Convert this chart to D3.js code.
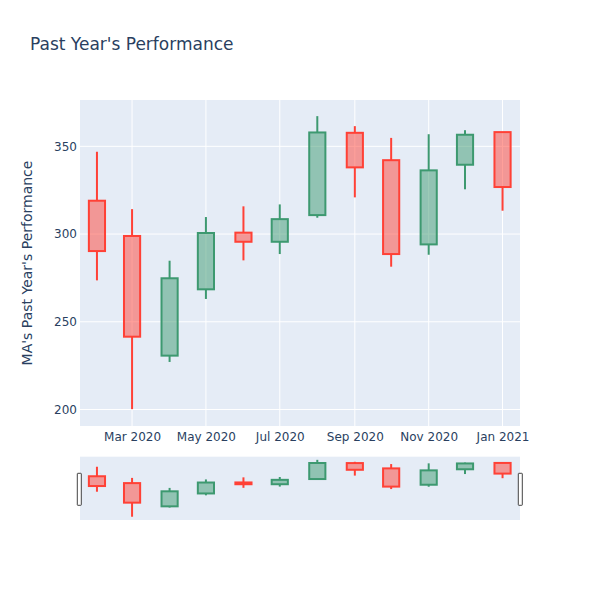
<!DOCTYPE html>
<html>
<head>
<meta charset="utf-8">
<script src="https://cdn.jsdelivr.net/npm/d3@7"></script>
<style>
body{margin:0;background:#fff;}
</style>
</head>
<body>
<div id="chart"></div>
<script>
const dates = ["2020-02-01","2020-03-01","2020-04-01","2020-05-01","2020-06-01","2020-07-01",
               "2020-08-01","2020-09-01","2020-10-01","2020-11-01","2020-12-01","2021-01-01"];
const opens  = [319.0, 298.9, 230.7, 268.5, 300.8, 295.6, 310.8, 357.7, 342.1, 294.1, 339.5, 358.1];
const highs  = [346.9, 314.2, 284.8, 309.7, 315.8, 316.9, 367.2, 361.5, 354.8, 356.9, 359.2, 358.1];
const lows   = [273.6, 200.2, 227.1, 263.0, 285.0, 288.6, 309.3, 320.9, 281.4, 288.2, 325.5, 313.3];
const closes = [290.3, 241.5, 274.8, 300.6, 295.6, 308.5, 357.9, 338.0, 288.6, 336.3, 356.6, 326.8];
const yTicks = [200, 250, 300, 350];
const xTickDates = ["2020-03-01","2020-05-01","2020-07-01","2020-09-01","2020-11-01","2021-01-01"];
const titleText = "Past Year's Performance";
const yTitle = "MA's Past Year's Performance";

const FONT = "'DejaVu Sans', verdana, sans-serif";
const W = 600, H = 600;
const M = {l:80, r:80, t:100};
const plotH = 326, sliderTop = 456.7, sliderH = 63.3;
const parse = d3.utcParse("%Y-%m-%d");
const data = dates.map((d,i)=>({date:parse(d), o:opens[i], h:highs[i], l:lows[i], c:closes[i]}));

const svg = d3.select("#chart").append("svg").attr("width",W).attr("height",H)
  .style("font-family",FONT);

const x = d3.scaleUtc()
  .domain([new Date(Date.UTC(2020,0,18,0)), new Date(Date.UTC(2021,0,15,10))])
  .range([M.l, W-M.r]);
const yDom = [190.6, 376.4];
const y = d3.scaleLinear().domain(yDom).range([M.t+plotH, M.t]);
const ys = d3.scaleLinear().domain(yDom).range([sliderTop+sliderH, sliderTop]);

const bg = "#e5ecf6";
svg.append("rect").attr("x",M.l).attr("y",M.t).attr("width",W-M.l-M.r).attr("height",plotH).attr("fill",bg);

const g = svg.append("g");
g.selectAll(".yg").data(yTicks).join("line")
  .attr("x1",M.l).attr("x2",W-M.r).attr("y1",d=>y(d)).attr("y2",d=>y(d))
  .attr("stroke","#fff").attr("stroke-width",1);
g.selectAll(".xg").data(xTickDates.map(parse)).join("line")
  .attr("x1",d=>x(d)).attr("x2",d=>x(d)).attr("y1",M.t).attr("y2",M.t+plotH)
  .attr("stroke","#fff").attr("stroke-width",1);

const yAxis = d3.axisLeft(y).tickValues(yTicks).tickSize(0).tickPadding(3);
const ya = svg.append("g").attr("transform",`translate(${M.l},0)`).call(yAxis);
ya.select(".domain").remove();
ya.selectAll("text").attr("font-size",12).attr("fill","#2a3f5f").attr("font-family",FONT);

const xAxis = d3.axisBottom(x).tickValues(xTickDates.map(parse)).tickSize(0).tickPadding(6)
  .tickFormat(d3.utcFormat("%b %Y"));
const xa = svg.append("g").attr("transform",`translate(0,${M.t+plotH})`).call(xAxis);
xa.select(".domain").remove();
xa.selectAll("text").attr("font-size",12).attr("fill","#2a3f5f").attr("font-family",FONT);

const inc = "#3D9970", dec = "#FF4136";
const halfW = (x(parse("2020-02-16")) - x(parse("2020-02-01")))/2 - 1;

function drawCandles(layer, ys_) {
  const c = layer.selectAll("g.c").data(data).join("g").attr("class","c")
    .attr("stroke",d=>d.c>=d.o?inc:dec);
  c.append("line")
    .attr("x1",d=>x(d.date)).attr("x2",d=>x(d.date))
    .attr("y1",d=>ys_(d.h)).attr("y2",d=>ys_(Math.max(d.o,d.c)))
    .attr("stroke-width",2);
  c.append("line")
    .attr("x1",d=>x(d.date)).attr("x2",d=>x(d.date))
    .attr("y1",d=>ys_(Math.min(d.o,d.c))).attr("y2",d=>ys_(d.l))
    .attr("stroke-width",2);
  c.append("rect")
    .attr("x",d=>x(d.date)-halfW).attr("width",halfW*2)
    .attr("y",d=>ys_(Math.max(d.o,d.c)))
    .attr("height",d=>Math.max(0.5,Math.abs(ys_(d.o)-ys_(d.c))))
    .attr("fill",d=>d.c>=d.o?inc:dec).attr("fill-opacity",0.5)
    .attr("stroke-width",2);
}
drawCandles(svg.append("g"), y);

svg.append("rect").attr("x",M.l).attr("y",sliderTop).attr("width",W-M.l-M.r).attr("height",sliderH).attr("fill",bg);
drawCandles(svg.append("g"), ys);
[M.l-2.7, W-M.r-1.7].forEach(hx=>{
  svg.append("rect").attr("x",hx).attr("y",473.3).attr("width",4).attr("height",32)
    .attr("fill","#fff").attr("stroke","#444").attr("stroke-width",1).attr("rx",0.5);
});

svg.append("text").attr("x",30).attr("y",50).text(titleText)
  .attr("font-size",17).attr("fill","#2a3f5f");
svg.append("text").attr("transform",`translate(32,${M.t+plotH/2}) rotate(-90)`)
  .attr("text-anchor","middle").text(yTitle).attr("font-size",14).attr("fill","#2a3f5f");
</script>
</body>
</html>
